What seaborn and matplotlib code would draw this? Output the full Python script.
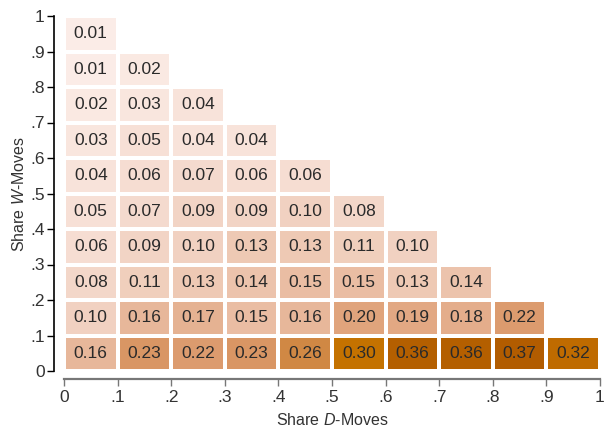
import numpy as np
import pandas as pd
import matplotlib
matplotlib.use("Agg")
import matplotlib.pyplot as plt
from matplotlib.colors import LinearSegmentedColormap
import seaborn as sns

# Anteile pro Zelle, Zeile = W-Bin (unten 0-.1 ... oben .9-1), Spalte = D-Bin
w_rows = [
    [0.16, 0.23, 0.22, 0.23, 0.26, 0.30, 0.36, 0.36, 0.37, 0.32],
    [0.10, 0.16, 0.17, 0.15, 0.16, 0.20, 0.19, 0.18, 0.22],
    [0.08, 0.11, 0.13, 0.14, 0.15, 0.15, 0.13, 0.14],
    [0.06, 0.09, 0.10, 0.13, 0.13, 0.11, 0.10],
    [0.05, 0.07, 0.09, 0.09, 0.10, 0.08],
    [0.04, 0.06, 0.07, 0.06, 0.06],
    [0.03, 0.05, 0.04, 0.04],
    [0.02, 0.03, 0.04],
    [0.01, 0.02],
    [0.01],
]
x_ticklabels = ["0", ".1", ".2", ".3", ".4", ".5", ".6", ".7", ".8", ".9", "1"]
y_ticklabels = ["1", ".9", ".8", ".7", ".6", ".5", ".4", ".3", ".2", ".1", "0"]

grid = np.full((10, 10), np.nan)
for i, row in enumerate(w_rows):
    grid[i, :len(row)] = row
df = pd.DataFrame(grid[::-1])  # oberste Zeile zuerst

cmap = LinearSegmentedColormap.from_list(
    "peach",
    [(0.0, "#fdf1ed"), (0.03, "#fbebe5"), (0.2, "#f4d9cc"), (0.35, "#eec9b4"),
     (0.45, "#e6b394"), (0.6, "#dc9a6d"), (0.7, "#d08845"), (0.8, "#c57300"),
     (1.0, "#b25c00")])

sns.set_style("white")
plt.rcParams["font.family"] = ["Liberation Sans", "DejaVu Sans"]
plt.rcParams["mathtext.fontset"] = "custom"
plt.rcParams["mathtext.rm"] = "Liberation Sans"
plt.rcParams["mathtext.it"] = "Liberation Sans:italic"

fig = plt.figure(figsize=(6.11, 4.32), dpi=100)
ax = fig.add_axes([64 / 611, (432 - 371) / 432, 536 / 611, 355 / 432])
sns.heatmap(df, ax=ax, mask=df.isna(), cmap=cmap, vmin=0, vmax=0.37,
            annot=True, fmt=".2f", annot_kws={"color": "#2a2a2a", "fontsize": 12.5},
            linewidths=1.6, linecolor="white", cbar=False)

ax.set_xticks(np.arange(11))
ax.set_xticklabels(x_ticklabels, rotation=0)
ax.set_yticks(np.arange(11))
ax.set_yticklabels(y_ticklabels, rotation=0)
ax.set_xlabel("Share $\\mathit{D}$-Moves", fontsize=11.5, color="#333333", labelpad=5)
ax.set_ylabel("Share $\\mathit{W}$-Moves", fontsize=11.5, color="#333333", labelpad=2)

for side in ["top", "right"]:
    ax.spines[side].set_visible(False)
ax.spines["left"].set_visible(True)
ax.spines["bottom"].set_visible(True)
ax.spines["left"].set_position(("outward", 7))
ax.spines["bottom"].set_position(("outward", 6))
ax.spines["left"].set_color("black")
ax.spines["bottom"].set_color("#777777")
ax.spines["left"].set_linewidth(1.2)
ax.spines["bottom"].set_linewidth(1.6)
ax.tick_params(axis="y", length=5, width=1, color="black", left=True, pad=2,
               labelsize=12.5, labelcolor="#333333")
ax.tick_params(axis="x", length=5, width=1, color="#777777", bottom=True, pad=3,
               labelsize=12.5, labelcolor="#333333")

fig.savefig("out.png", dpi=100)
